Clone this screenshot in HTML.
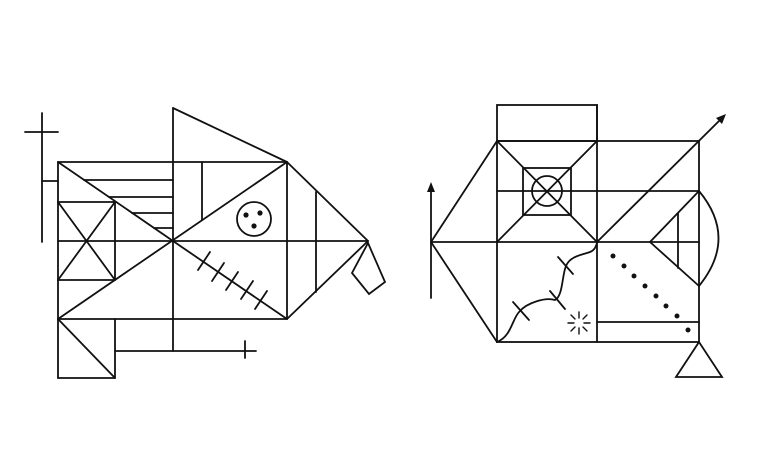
<!DOCTYPE html>
<html><head><style>html,body{margin:0;padding:0;background:#fff}svg{display:block}</style></head>
<body>
<svg width="760" height="475" viewBox="0 0 760 475" xmlns="http://www.w3.org/2000/svg">
<g stroke="#111" stroke-width="1.8" fill="none" stroke-linecap="round">
<!-- LEFT FIGURE -->
<line x1="42" y1="113" x2="42" y2="242"/>
<line x1="25" y1="132" x2="58" y2="132"/>
<line x1="42" y1="181" x2="58" y2="181"/>
<line x1="58" y1="162" x2="287" y2="162"/>
<line x1="58" y1="162" x2="58" y2="378"/>
<line x1="58" y1="241" x2="368" y2="241"/>
<line x1="173" y1="108" x2="173" y2="351"/>
<line x1="173" y1="108" x2="287" y2="162"/>
<line x1="84" y1="180" x2="173" y2="180"/>
<line x1="109" y1="197" x2="173" y2="197"/>
<line x1="132" y1="213" x2="173" y2="213"/>
<line x1="154" y1="228" x2="173" y2="228"/>
<line x1="58" y1="162" x2="173" y2="241"/>
<line x1="58" y1="202" x2="115" y2="202"/>
<line x1="58" y1="280" x2="115" y2="280"/>
<line x1="115" y1="202" x2="115" y2="280"/>
<line x1="58" y1="202" x2="115" y2="280"/>
<line x1="115" y1="202" x2="58" y2="280"/>
<line x1="58" y1="319" x2="287" y2="162"/>
<line x1="202" y1="162" x2="202" y2="220"/>
<circle cx="254" cy="219" r="17"/>
<line x1="173" y1="241" x2="287" y2="319"/>
<line x1="287" y1="162" x2="368" y2="241"/>
<line x1="368" y1="241" x2="287" y2="319"/>
<line x1="316" y1="192" x2="316" y2="292"/>
<line x1="287" y1="162" x2="287" y2="319"/>
<polygon points="368,243 352,273 369,294 385,282"/>
<line x1="58" y1="319" x2="287" y2="319"/>
<line x1="58" y1="378" x2="115" y2="378"/>
<line x1="115" y1="319" x2="115" y2="378"/>
<line x1="58" y1="319" x2="115" y2="378"/>
<line x1="115" y1="351" x2="256" y2="351"/>
<line x1="245" y1="341" x2="245" y2="358"/>
<line x1="198" y1="270" x2="210" y2="252"/>
<line x1="212" y1="281" x2="224" y2="263"/>
<line x1="226" y1="290" x2="238" y2="272"/>
<line x1="241" y1="299" x2="253" y2="281"/>
<line x1="255" y1="309" x2="267" y2="291"/>
<!-- RIGHT FIGURE -->
<rect x="497" y="105" width="100" height="36"/>
<rect x="497" y="141" width="202" height="201"/>
<line x1="431" y1="242" x2="497" y2="141"/>
<line x1="431" y1="242" x2="497" y2="342"/>
<line x1="431" y1="242" x2="699" y2="242"/>
<line x1="431" y1="298" x2="431" y2="188"/>
<line x1="497" y1="191" x2="699" y2="191"/>
<line x1="497" y1="141" x2="597" y2="242"/>
<line x1="597" y1="141" x2="497" y2="242"/>
<rect x="523" y="168" width="48" height="47"/>
<circle cx="547" cy="191" r="15"/>
<line x1="597" y1="242" x2="721" y2="119"/>
<line x1="597" y1="105" x2="597" y2="342"/>
<polyline points="699,191 650,242 699,286"/>
<line x1="678" y1="213" x2="678" y2="268"/>
<path d="M699,191 Q738,238 699,286"/>
<line x1="597" y1="322" x2="699" y2="322"/>
<polygon points="699,342 676,377 722,377"/>
<path d="M497,342 C512,336 512,318 520,311 C527,303 545,297 555,300 C563,296 562,275 566,266 C570,256 582,255 590,252 C595,250 596,246 597,243"/>
<line x1="513" y1="302" x2="529" y2="320"/>
<line x1="550" y1="291" x2="565" y2="309"/>
<line x1="558" y1="257" x2="573" y2="274"/>
<g stroke-width="1.4">
<line x1="579" y1="312" x2="579" y2="318"/><line x1="579" y1="328" x2="579" y2="334"/>
<line x1="568" y1="323" x2="574" y2="323"/><line x1="584" y1="323" x2="590" y2="323"/>
<line x1="571" y1="315" x2="575" y2="319"/><line x1="583" y1="327" x2="587" y2="331"/>
<line x1="587" y1="315" x2="583" y2="319"/><line x1="575" y1="327" x2="571" y2="331"/>
</g>
</g>
<g fill="#111">
<circle cx="246" cy="215" r="2.6"/><circle cx="260" cy="213" r="2.6"/><circle cx="254" cy="226" r="2.6"/>
<polygon points="431,182 427,192 435,192"/>
<polygon points="726,114 716,118 722,124"/>
<circle cx="613" cy="256" r="2.5"/><circle cx="624" cy="266" r="2.5"/><circle cx="634" cy="276" r="2.5"/><circle cx="645" cy="286" r="2.5"/><circle cx="656" cy="296" r="2.5"/><circle cx="666" cy="306" r="2.5"/><circle cx="677" cy="316" r="2.5"/><circle cx="688" cy="330" r="2.5"/>
</g>
</svg>
</body></html>
